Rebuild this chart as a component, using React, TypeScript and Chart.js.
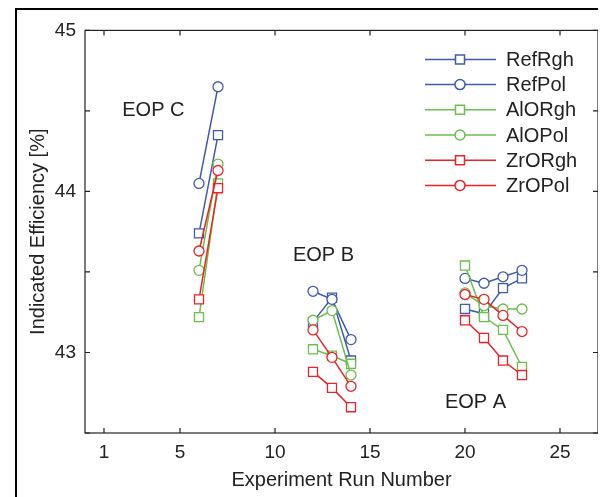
import React, { useEffect, useRef } from "react";
import { Chart, registerables } from "chart.js";

Chart.register(...registerables);

// run numbers of the three operating points
const eopCRuns = [6, 7];
const eopBRuns = [12, 13, 14];
const eopARuns = [20, 21, 22, 23];

// indicated efficiency [%] per series, split by operating point (C, B, A)
const refRghC = [43.74, 44.35];
const refRghB = [43.19, 43.34, 42.95];
const refRghA = [43.27, 43.24, 43.4, 43.46];

const refPolC = [44.05, 44.65];
const refPolB = [43.38, 43.33, 43.08];
const refPolA = [43.46, 43.43, 43.47, 43.51];

const alORghC = [43.22, 44.05];
const alORghB = [43.02, 42.98, 42.93];
const alORghA = [43.54, 43.22, 43.14, 42.91];

const alOPolC = [43.51, 44.17];
const alOPolB = [43.2, 43.26, 42.86];
const alOPolA = [43.37, 43.29, 43.27, 43.27];

const zrORghC = [43.33, 44.02];
const zrORghB = [42.88, 42.78, 42.66];
const zrORghA = [43.2, 43.09, 42.95, 42.86];

const zrOPolC = [43.63, 44.13];
const zrOPolB = [43.14, 42.97, 42.79];
const zrOPolA = [43.36, 43.33, 43.23, 43.13];

const seriesNames = ["RefRgh", "RefPol", "AlORgh", "AlOPol", "ZrORgh", "ZrOPol"];

const xTickValues = [1, 5, 10, 15, 20, 25];
const yTickValues = [42.5, 43, 43.5, 44, 44.5, 45];

const eopLabels = ["EOP C", "EOP B", "EOP A"];
const eopLabelX = [3.6, 12.55, 20.55];
const eopLabelY = [44.5, 43.6, 42.69];

const BLUE = "#3f5bab";
const GREEN = "#6cbf4a";
const RED = "#ec2327";
const FONT = '"Liberation Sans", Arial, Helvetica, sans-serif';
const INK = "#222";

// join the three groups into one line with gaps between them
const joinGroups = (c: number[], b: number[], a: number[]) => [
  ...eopCRuns.map((x, i) => ({ x, y: c[i] })),
  { x: 9, y: null },
  ...eopBRuns.map((x, i) => ({ x, y: b[i] })),
  { x: 17, y: null },
  ...eopARuns.map((x, i) => ({ x, y: a[i] })),
];

const seriesData = [
  joinGroups(refRghC, refRghB, refRghA),
  joinGroups(refPolC, refPolB, refPolA),
  joinGroups(alORghC, alORghB, alORghA),
  joinGroups(alOPolC, alOPolB, alOPolA),
  joinGroups(zrORghC, zrORghB, zrORghA),
  joinGroups(zrOPolC, zrOPolB, zrOPolA),
];
const seriesColors = [BLUE, BLUE, GREEN, GREEN, RED, RED];
const seriesMarkers = ["rect", "circle", "rect", "circle", "rect", "circle"];

const drawMarker = (ctx: CanvasRenderingContext2D, style: string, x: number, y: number) => {
  ctx.beginPath();
  if (style === "rect") {
    ctx.rect(x - 4.5, y - 4.5, 9, 9);
  } else {
    ctx.arc(x, y, 5, 0, Math.PI * 2);
  }
  ctx.fill();
  ctx.stroke();
};

// box, inward ticks, annotations and legend in matlab style
const framePlugin = {
  id: "frame",
  afterDraw(chart: any) {
    const ctx = chart.ctx as CanvasRenderingContext2D;
    const { left, right, top, bottom } = chart.chartArea;
    const xs = chart.scales.x;
    const ys = chart.scales.y;
    ctx.save();
    ctx.strokeStyle = INK;
    ctx.lineWidth = 1.2;
    ctx.strokeRect(left, top, right - left, bottom - top);
    ctx.beginPath();
    xTickValues.forEach((v) => {
      const px = xs.getPixelForValue(v);
      ctx.moveTo(px, bottom);
      ctx.lineTo(px, bottom - 5);
      ctx.moveTo(px, top);
      ctx.lineTo(px, top + 5);
    });
    yTickValues.forEach((v) => {
      const py = ys.getPixelForValue(v);
      ctx.moveTo(left, py);
      ctx.lineTo(left + 5, py);
      ctx.moveTo(right, py);
      ctx.lineTo(right - 5, py);
    });
    ctx.stroke();

    ctx.fillStyle = INK;
    ctx.font = `20px ${FONT}`;
    ctx.textAlign = "center";
    ctx.textBaseline = "middle";
    eopLabels.forEach((t, i) => {
      ctx.fillText(t, xs.getPixelForValue(eopLabelX[i]), ys.getPixelForValue(eopLabelY[i]));
    });

    // legend
    const lx0 = right - 173;
    const lx1 = right - 102;
    const mx = right - 138;
    ctx.textAlign = "left";
    seriesNames.forEach((name, i) => {
      const ly = top + 29 + i * 25.2;
      ctx.strokeStyle = seriesColors[i];
      ctx.fillStyle = "#fff";
      ctx.lineWidth = 1.5;
      ctx.beginPath();
      ctx.moveTo(lx0, ly);
      ctx.lineTo(lx1, ly);
      ctx.stroke();
      drawMarker(ctx, seriesMarkers[i], mx, ly);
      ctx.fillStyle = INK;
      ctx.fillText(name, right - 92, ly + 1);
    });
    ctx.restore();
  },
};

const App = () => {
  const canvasRef = useRef<HTMLCanvasElement>(null);

  useEffect(() => {
    if (!canvasRef.current) return;
    const chart = new Chart(canvasRef.current, {
      type: "line",
      data: {
        datasets: seriesNames.map((name, i) => ({
          label: name,
          data: seriesData[i] as any,
          borderColor: seriesColors[i],
          borderWidth: 1.5,
          pointStyle: seriesMarkers[i] as any,
          pointRadius: seriesMarkers[i] === "rect" ? 6.4 : 5,
          pointBorderWidth: 1.3,
          pointBackgroundColor: "#fff",
          pointBorderColor: seriesColors[i],
          spanGaps: false,
          tension: 0,
          order: seriesNames.length - i, // later series on top
        })),
      },
      options: {
        animation: false,
        responsive: false,
        layout: { padding: { top: 15, right: 8, left: 0, bottom: 0 } },
        plugins: {
          legend: { display: false },
          tooltip: { enabled: false },
        },
        scales: {
          x: {
            type: "linear",
            min: 0,
            max: 27,
            border: { display: false },
            grid: { display: false, drawTicks: false },
            afterBuildTicks: (scale: any) => {
              scale.ticks = xTickValues.map((v) => ({ value: v }));
            },
            afterFit: (scale: any) => {
              scale.height = 64;
            },
            ticks: {
              color: INK,
              font: { family: FONT, size: 19 },
              padding: 8,
              maxRotation: 0,
              autoSkip: false,
            },
            title: {
              display: true,
              text: "Experiment Run Number",
              color: INK,
              font: { family: FONT, size: 20 },
              padding: { top: 0, bottom: 5 },
            },
          },
          y: {
            type: "linear",
            min: 42.5,
            max: 45,
            border: { display: false },
            grid: { display: false, drawTicks: false },
            afterBuildTicks: (scale: any) => {
              scale.ticks = yTickValues.map((v) => ({ value: v }));
            },
            afterFit: (scale: any) => {
              scale.width = 68;
            },
            ticks: {
              color: INK,
              font: { family: FONT, size: 19 },
              padding: 9,
              autoSkip: false,
              callback: (v: any) => (Number.isInteger(v) ? String(v) : ""),
            },
            title: {
              display: true,
              text: "Indicated Efficiency [%]",
              color: INK,
              font: { family: FONT, size: 20 },
              padding: { top: 9, bottom: 0 },
            },
          },
        },
      },
      plugins: [framePlugin],
    });
    return () => chart.destroy();
  }, []);

  return (
    <div
      style={{
        marginLeft: 7,
        width: 591,
        height: 489,
        borderTop: "2px solid #000",
        borderLeft: "2px solid #000",
        boxSizing: "border-box",
        position: "relative",
        background: "#fff",
      }}
    >
      <canvas
        ref={canvasRef}
        width={589}
        height={487}
        style={{ position: "absolute", left: 0, top: 0, width: 589, height: 487 }}
      />
    </div>
  );
};

export default App;
